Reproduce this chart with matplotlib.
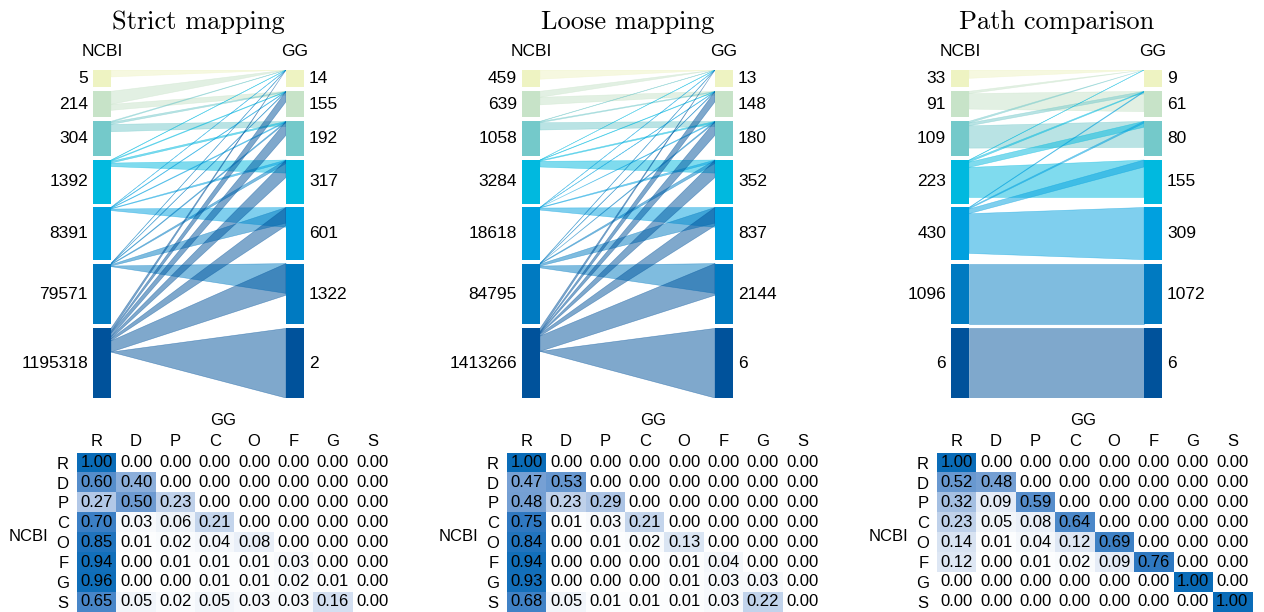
import numpy as np
import matplotlib.pyplot as plt
from matplotlib.colors import LinearSegmentedColormap

plt.rcParams['font.family'] = ['Liberation Sans', 'DejaVu Sans']

ranks = ['R', 'D', 'P', 'C', 'O', 'F', 'G', 'S']
levels = ranks[1:]
titles = ['Strict mapping', 'Loose mapping', 'Path comparison']

# taxa per rank (D..S) on each side
strict_ncbi = [5, 214, 304, 1392, 8391, 79571, 1195318]
strict_gg = [14, 155, 192, 317, 601, 1322, 2]
loose_ncbi = [459, 639, 1058, 3284, 18618, 84795, 1413266]
loose_gg = [13, 148, 180, 352, 837, 2144, 6]
path_ncbi = [33, 91, 109, 223, 430, 1096, 6]
path_gg = [9, 61, 80, 155, 309, 1072, 6]

# row: NCBI rank, column: GG rank (R D P C O F G S)
strict_frac = np.array([
    [1.00, 0.00, 0.00, 0.00, 0.00, 0.00, 0.00, 0.00],
    [0.60, 0.40, 0.00, 0.00, 0.00, 0.00, 0.00, 0.00],
    [0.27, 0.50, 0.23, 0.00, 0.00, 0.00, 0.00, 0.00],
    [0.70, 0.03, 0.06, 0.21, 0.00, 0.00, 0.00, 0.00],
    [0.85, 0.01, 0.02, 0.04, 0.08, 0.00, 0.00, 0.00],
    [0.94, 0.00, 0.01, 0.01, 0.01, 0.03, 0.00, 0.00],
    [0.96, 0.00, 0.00, 0.01, 0.01, 0.02, 0.01, 0.00],
    [0.65, 0.05, 0.02, 0.05, 0.03, 0.03, 0.16, 0.00],
])
loose_frac = np.array([
    [1.00, 0.00, 0.00, 0.00, 0.00, 0.00, 0.00, 0.00],
    [0.47, 0.53, 0.00, 0.00, 0.00, 0.00, 0.00, 0.00],
    [0.48, 0.23, 0.29, 0.00, 0.00, 0.00, 0.00, 0.00],
    [0.75, 0.01, 0.03, 0.21, 0.00, 0.00, 0.00, 0.00],
    [0.84, 0.00, 0.01, 0.02, 0.13, 0.00, 0.00, 0.00],
    [0.94, 0.00, 0.00, 0.00, 0.01, 0.04, 0.00, 0.00],
    [0.93, 0.00, 0.00, 0.00, 0.01, 0.03, 0.03, 0.00],
    [0.68, 0.05, 0.01, 0.01, 0.01, 0.03, 0.22, 0.00],
])
path_frac = np.array([
    [1.00, 0.00, 0.00, 0.00, 0.00, 0.00, 0.00, 0.00],
    [0.52, 0.48, 0.00, 0.00, 0.00, 0.00, 0.00, 0.00],
    [0.32, 0.09, 0.59, 0.00, 0.00, 0.00, 0.00, 0.00],
    [0.23, 0.05, 0.08, 0.64, 0.00, 0.00, 0.00, 0.00],
    [0.14, 0.01, 0.04, 0.12, 0.69, 0.00, 0.00, 0.00],
    [0.12, 0.00, 0.01, 0.02, 0.09, 0.76, 0.00, 0.00],
    [0.00, 0.00, 0.00, 0.00, 0.00, 0.00, 1.00, 0.00],
    [0.00, 0.00, 0.00, 0.00, 0.00, 0.00, 0.00, 1.00],
])

# share of each GG rank reached by a flow (row NCBI D..S, col GG D..S)
strict_share = np.array([
    [0.00, 0, 0, 0, 0, 0, 0],
    [0.00, 0.15, 0, 0, 0, 0, 0],
    [0.01, 0.03, 0.15, 0, 0, 0, 0],
    [0.01, 0.02, 0.04, 0.30, 0, 0, 0],
    [0.01, 0.02, 0.03, 0.05, 0.38, 0, 0],
    [0.01, 0.02, 0.04, 0.08, 0.30, 0.49, 0],
    [0.00, 0.40, 0.40, 0.40, 0.35, 0.52, 1.00],
])
loose_share = np.array([
    [0.00, 0, 0, 0, 0, 0, 0],
    [0.00, 0.15, 0, 0, 0, 0, 0],
    [0.01, 0.03, 0.15, 0, 0, 0, 0],
    [0.01, 0.02, 0.04, 0.30, 0, 0, 0],
    [0.01, 0.02, 0.03, 0.05, 0.38, 0, 0],
    [0.01, 0.02, 0.04, 0.08, 0.30, 0.49, 0],
    [0.00, 0.40, 0.40, 0.40, 0.35, 0.52, 1.00],
])
path_share = np.array([
    [0.00, 0, 0, 0, 0, 0, 0],
    [0.00, 0.78, 0, 0, 0, 0, 0],
    [0.00, 0.10, 0.75, 0, 0, 0, 0],
    [0.00, 0.03, 0.17, 0.86, 0, 0, 0],
    [0.00, 0.03, 0.05, 0.16, 1.00, 0, 0],
    [0, 0, 0, 0, 0, 1.00, 0],
    [0, 0, 0, 0, 0, 0, 1.00],
])

panels = [
    (strict_ncbi, strict_gg, strict_frac, strict_share),
    (loose_ncbi, loose_gg, loose_frac, loose_share),
    (path_ncbi, path_gg, path_frac, path_share),
]

block_colors = ['#eef3c2', '#c7e3c8', '#74c9ca', '#00b9df',
                '#00a0df', '#007ac1', '#00529b']
heat_cmap = LinearSegmentedColormap.from_list(
    'heat', [(0.0, '#ffffff'), (0.25, '#b9cde9'), (0.5, '#6e9bd2'),
             (0.75, '#3079c2'), (1.0, '#0a6cb8')])

W, H = 1264, 612
fig = plt.figure(figsize=(W / 100, H / 100), dpi=100)


def box(x0, y0, w, h):
    return [x0 / W, 1 - (y0 + h) / H, w / W, h / H]


sizes = np.arange(2, 9, dtype=float)
gap = 0.45
tops = np.concatenate([[0], np.cumsum(sizes + gap)[:-1]])
total = tops[-1] + sizes[-1]
sk_w, sk_h = 211, 328
bw = 18 / sk_w
unit = sk_h / total

for k, (ncbi, gg, frac, share) in enumerate(panels):
    x0 = 93 + 429 * k
    ax = fig.add_axes(box(x0, 70, sk_w, sk_h))
    ax.set_xlim(0, 1)
    ax.set_ylim(total, 0)
    ax.axis('off')

    # flows: stacked on the NCBI side, anchored at the top of the GG block
    for i in range(7):
        cum = tops[i]
        for j in range(i + 1):
            lw_ = frac[i + 1, j + 1] * sizes[i]
            rw_ = share[i, j] * sizes[j]
            if frac[i + 1, j + 1] > 0 or share[i, j] > 0:
                xs = [bw, 1 - bw, 1 - bw, bw]
                ys = [cum, tops[j], tops[j] + rw_, cum + lw_]
                ax.fill(xs, ys, color=block_colors[i], alpha=0.5,
                        lw=0.4, zorder=1)
            cum += lw_

    for i in range(7):
        ax.fill([0, bw, bw, 0], [tops[i], tops[i], tops[i] + sizes[i], tops[i] + sizes[i]],
                color=block_colors[i], lw=0, zorder=3)
        ax.fill([1 - bw, 1, 1, 1 - bw], [tops[i], tops[i], tops[i] + sizes[i], tops[i] + sizes[i]],
                color=block_colors[i], lw=0, zorder=3)
        yc = tops[i] + sizes[i] / 2
        ax.text(-5 / sk_w, yc, str(ncbi[i]), ha='right', va='center', fontsize=12.5)
        ax.text(1 + 5 / sk_w, yc, str(gg[i]), ha='left', va='center', fontsize=12.5)

    ax.text(bw / 2, -18 / unit, 'NCBI', ha='center', va='center', fontsize=12.5)
    ax.text(1 - bw / 2, -18 / unit, 'GG', ha='center', va='center', fontsize=12.5)
    ax.text(0.5, -48 / unit, titles[k], ha='center', va='center',
            fontsize=19, fontfamily='cmr10')

    # rank-to-rank fraction matrix
    hx = 77 + 430 * k
    hm = fig.add_axes(box(hx, 452.7, 315, 159))
    hm.imshow(frac, cmap=heat_cmap, vmin=0, vmax=1, aspect='auto',
              interpolation='nearest')
    for r in range(8):
        for c in range(8):
            hm.text(c, r, f'{frac[r, c]:.2f}', ha='center', va='center', fontsize=12)
    hm.xaxis.tick_top()
    hm.set_xticks(range(8), ranks)
    hm.set_yticks(range(8), ranks)
    hm.tick_params(axis='x', length=0, pad=2.5, labelsize=12)
    hm.tick_params(axis='y', length=0, pad=6, labelsize=12)
    for s in hm.spines.values():
        s.set_visible(False)
    hm.text(0.464, 1 + 32 / 159, 'GG', transform=hm.transAxes,
            ha='center', va='center', fontsize=12)
    hm.text(-48 / 315, 0.47, 'NCBI', transform=hm.transAxes,
            ha='center', va='center', fontsize=12)

fig.savefig('out.png', dpi=100)
